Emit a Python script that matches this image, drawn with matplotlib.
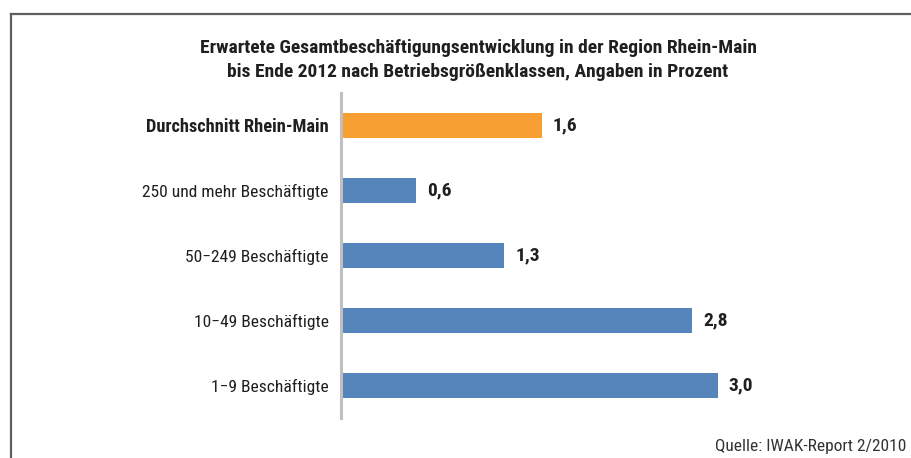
import matplotlib
matplotlib.use("Agg")
import matplotlib.pyplot as plt
from matplotlib.lines import Line2D
from matplotlib import font_manager

names = {f.name for f in font_manager.fontManager.ttflist}
narrow = [n for n in ["Liberation Sans Narrow", "Roboto Condensed", "Open Sans Condensed",
                      "DejaVu Sans Condensed"] if n in names]
plt.rcParams["font.family"] = narrow + ["DejaVu Sans"]
plt.rcParams["font.stretch"] = "condensed"

categories = ["Durchschnitt Rhein-Main", "250 und mehr Beschäftigte",
              "50\u2212249 Beschäftigte", "10\u221249 Beschäftigte",
              "1\u22129 Beschäftigte"]
values = [1.6, 0.6, 1.3, 2.8, 3.0]
highlight = [True, False, False, False, False]
value_labels = ["1,6", "0,6", "1,3", "2,8", "3,0"]

title = ("Erwartete Gesamtbeschäftigungsentwicklung in der Region Rhein-Main\n"
         "bis Ende 2012 nach Betriebsgrößenklassen, Angaben in Prozent")
source = "Quelle: IWAK-Report 2/2010"

W, H = 911, 458
fig = plt.figure(figsize=(W / 100, H / 100), dpi=100)

# frame, left and top only
fig.add_artist(Line2D([11 / W, 11 / W], [0, 1 - 14 / H], transform=fig.transFigure,
                      color="#5f5f5f", lw=1.6))
fig.add_artist(Line2D([11 / W, 1], [1 - 14 / H, 1 - 14 / H], transform=fig.transFigure,
                      color="#5f5f5f", lw=1.6))

ax = fig.add_axes([341 / W, 40 / H, 502 / W, 325 / H])
ypos = list(range(len(categories)))[::-1]
colors = ["#f89f34" if h else "#5585ba" for h in highlight]
ax.barh(ypos, values, height=0.39, color=colors, edgecolor="none")
ax.set_xlim(0, 4)
ax.set_ylim(-0.5, len(categories) - 0.5)

for y, v, lab in zip(ypos, values, value_labels):
    ax.annotate(lab, (v, y), xytext=(8, 0), textcoords="offset points",
                ha="left", va="center", fontsize=14, fontweight="bold", color="#1f1f1f")

ax.set_yticks(ypos)
ax.set_yticklabels(categories, fontsize=12.6, color="#1f1f1f")
for lbl, h in zip(ax.get_yticklabels(), highlight):
    if h:
        lbl.set_fontweight("bold")
        lbl.set_fontsize(13.2)
ax.tick_params(axis="y", length=0, pad=9)
ax.set_xticks([])
for s in ["top", "right", "bottom"]:
    ax.spines[s].set_visible(False)
ax.spines["left"].set_color("#c0c0c0")
ax.spines["left"].set_linewidth(2.2)

fig.text(478 / W, 1 - 60 / H, title, ha="center", va="center", fontsize=14,
         fontweight="bold", color="#1f1f1f", linespacing=1.45)
fig.text(906 / W, 1 - 447 / H, source, ha="right", va="center", fontsize=12.5,
         color="#333333")

fig.savefig("out.png", dpi=100)
